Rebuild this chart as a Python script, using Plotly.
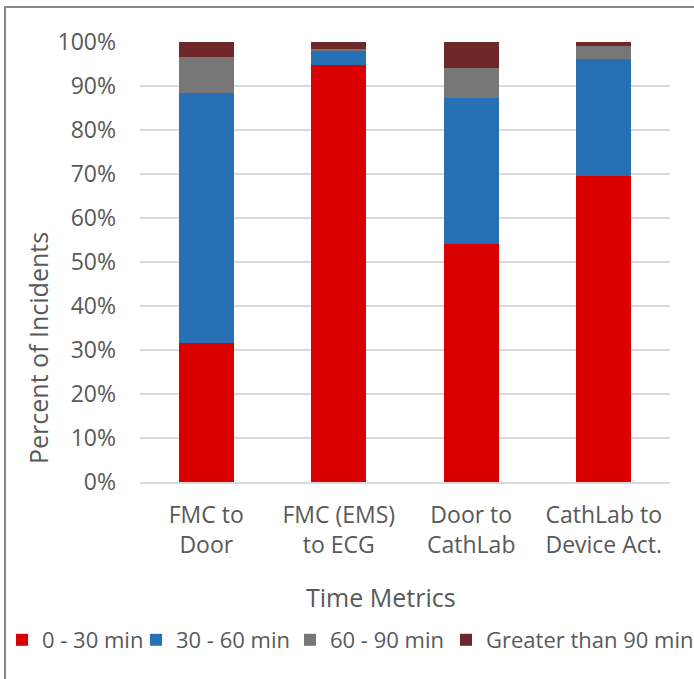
import plotly.graph_objects as go

categories = ["FMC to<br>Door", "FMC (EMS)<br>to ECG", "Door to<br>CathLab", "CathLab to<br>Device Act."]
series_names = ["0 - 30 min", "30 - 60 min", "60 - 90 min", "Greater than 90 min"]
v_0_30 = [31.6, 94.8, 54.1, 69.5]
v_30_60 = [56.7, 3.2, 33.2, 26.6]
v_60_90 = [8.4, 0.4, 6.9, 3.1]
v_90_plus = [3.3, 1.6, 5.8, 0.8]
colors = ["#DA0000", "#2770B5", "#777777", "#70272A"]
y_ticks = [0, 10, 20, 30, 40, 50, 60, 70, 80, 90, 100]
y_ticklabels = [f"{t}%" for t in y_ticks]

W, H = 694, 679
L, R, T, B = 140, 24, 42, 197
FONT = "Open Sans"
TXT = "#595959"
legend_ids = ["legend", "legend2", "legend3", "legend4"]
legend_left_px = [2, 136, 290, 446]

fig = go.Figure()
for name, vals, col, lid in zip(series_names, [v_0_30, v_30_60, v_60_90, v_90_plus], colors, legend_ids):
    fig.add_trace(go.Bar(x=categories, y=vals, name=name, legend=lid,
                         marker=dict(color=col, line=dict(width=0))))

legend_cfg = {}
for lid, xl in zip(legend_ids, legend_left_px):
    legend_cfg[lid] = dict(orientation="h", xref="container", yref="container",
                           x=xl / W, y=1 - 640 / H, xanchor="left", yanchor="middle",
                           font=dict(size=22, color=TXT, family=FONT), itemwidth=30,
                           bgcolor="rgba(0,0,0,0)", borderwidth=0)

fig.update_layout(
    width=W, height=H,
    margin=dict(l=L, r=R, t=T, b=B),
    barmode="stack", bargap=0.585,
    paper_bgcolor="white", plot_bgcolor="white",
    font=dict(family=FONT, size=24, color=TXT),
    showlegend=True,
    **legend_cfg,
    xaxis=dict(showgrid=False, showline=True, linecolor="#D9D9D9", linewidth=1.5,
               ticks="", tickfont=dict(size=23, color=TXT), ticklabelstandoff=12),
    yaxis=dict(range=[0, 100], tickvals=y_ticks, ticktext=y_ticklabels,
               showgrid=True, gridcolor="#D9D9D9", gridwidth=1.5,
               zeroline=False, showline=False, ticks="",
               tickfont=dict(size=23, color=TXT), ticklabelstandoff=23),
    annotations=[
        dict(text="Percent of Incidents", xref="paper", yref="paper",
             x=(38 - L) / (W - L - R), y=1 - (348 - T) / (H - T - B),
             xanchor="center", yanchor="middle", textangle=-90, showarrow=False,
             font=dict(size=25, color=TXT)),
        dict(text="Time Metrics", xref="paper", yref="paper",
             x=(381 - L) / (W - L - R), y=-(597 - (H - B)) / (H - T - B),
             xanchor="center", yanchor="middle", showarrow=False,
             font=dict(size=25, color=TXT)),
    ],
    shapes=[
        dict(type="rect", xref="paper", yref="paper",
             x0=(5 - L) / (W - L - R), x1=(W + 20 - L) / (W - L - R),
             y0=-(H + 20 - (H - B)) / (H - T - B), y1=1 + (T - 7) / (H - T - B),
             line=dict(color="#888888", width=2), fillcolor="rgba(0,0,0,0)", layer="below"),
    ],
)

fig.write_html("out.html")
